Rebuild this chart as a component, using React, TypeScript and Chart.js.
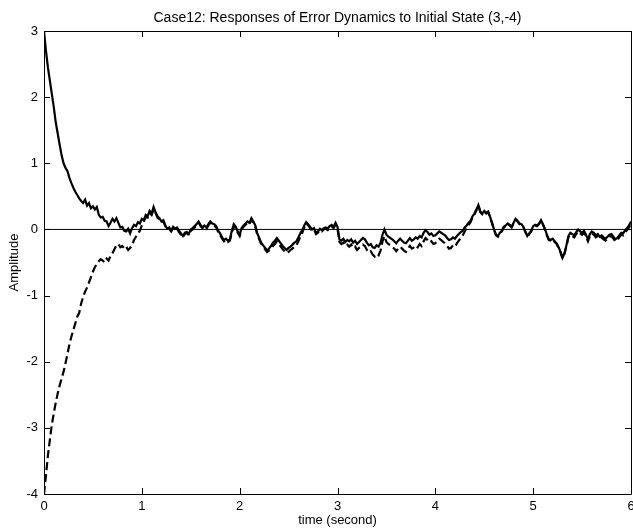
import { useEffect, useRef } from "react";
import { Chart, registerables } from "chart.js";

Chart.register(...registerables);

const chartTitle = "Case12: Responses of Error Dynamics to Initial State (3,-4)";
const xAxisLabel = "time (second)";
const yAxisLabel = "Amplitude";
const xTicks = [0, 1, 2, 3, 4, 5, 6];
const yTicks = [-4, -3, -2, -1, 0, 1, 2, 3];

const timeValues = [
  0.00, 0.02, 0.04, 0.06, 0.08, 0.10, 0.12, 0.14, 0.16, 0.18,
  0.20, 0.22, 0.24, 0.26, 0.28, 0.30, 0.32, 0.34, 0.36, 0.38,
  0.40, 0.42, 0.44, 0.46, 0.48, 0.50, 0.52, 0.54, 0.56, 0.58,
  0.60, 0.62, 0.64, 0.66, 0.68, 0.70, 0.72, 0.74, 0.76, 0.78,
  0.80, 0.82, 0.84, 0.86, 0.88, 0.90, 0.92, 0.94, 0.96, 0.98,
  1.00, 1.02, 1.04, 1.06, 1.08, 1.10, 1.12, 1.14, 1.16, 1.18,
  1.20, 1.22, 1.24, 1.26, 1.28, 1.30, 1.32, 1.34, 1.36, 1.38,
  1.40, 1.42, 1.44, 1.46, 1.48, 1.50, 1.52, 1.54, 1.56, 1.58,
  1.60, 1.62, 1.64, 1.66, 1.68, 1.70, 1.72, 1.74, 1.76, 1.78,
  1.80, 1.82, 1.84, 1.86, 1.88, 1.90, 1.92, 1.94, 1.96, 1.98,
  2.00, 2.02, 2.04, 2.06, 2.08, 2.10, 2.12, 2.14, 2.16, 2.18,
  2.20, 2.22, 2.24, 2.26, 2.28, 2.30, 2.32, 2.34, 2.36, 2.38,
  2.40, 2.42, 2.44, 2.46, 2.48, 2.50, 2.52, 2.54, 2.56, 2.58,
  2.60, 2.62, 2.64, 2.66, 2.68, 2.70, 2.72, 2.74, 2.76, 2.78,
  2.80, 2.82, 2.84, 2.86, 2.88, 2.90, 2.92, 2.94, 2.96, 2.98,
  3.00, 3.02, 3.04, 3.06, 3.08, 3.10, 3.12, 3.14, 3.16, 3.18,
  3.20, 3.22, 3.24, 3.26, 3.28, 3.30, 3.32, 3.34, 3.36, 3.38,
  3.40, 3.42, 3.44, 3.46, 3.48, 3.50, 3.52, 3.54, 3.56, 3.58,
  3.60, 3.62, 3.64, 3.66, 3.68, 3.70, 3.72, 3.74, 3.76, 3.78,
  3.80, 3.82, 3.84, 3.86, 3.88, 3.90, 3.92, 3.94, 3.96, 3.98,
  4.00, 4.02, 4.04, 4.06, 4.08, 4.10, 4.12, 4.14, 4.16, 4.18,
  4.20, 4.22, 4.24, 4.26, 4.28, 4.30, 4.32, 4.34, 4.36, 4.38,
  4.40, 4.42, 4.44, 4.46, 4.48, 4.50, 4.52, 4.54, 4.56, 4.58,
  4.60, 4.62, 4.64, 4.66, 4.68, 4.70, 4.72, 4.74, 4.76, 4.78,
  4.80, 4.82, 4.84, 4.86, 4.88, 4.90, 4.92, 4.94, 4.96, 4.98,
  5.00, 5.02, 5.04, 5.06, 5.08, 5.10, 5.12, 5.14, 5.16, 5.18,
  5.20, 5.22, 5.24, 5.26, 5.28, 5.30, 5.32, 5.34, 5.36, 5.38,
  5.40, 5.42, 5.44, 5.46, 5.48, 5.50, 5.52, 5.54, 5.56, 5.58,
  5.60, 5.62, 5.64, 5.66, 5.68, 5.70, 5.72, 5.74, 5.76, 5.78,
  5.80, 5.82, 5.84, 5.86, 5.88, 5.90, 5.92, 5.94, 5.96, 5.98,
  6.00,
];

// error state 1 (solid line), starts at 3
const error1Values = [
  3.00, 2.70, 2.45, 2.25, 2.05, 1.85, 1.62, 1.45, 1.28, 1.12,
  1.00, 0.93, 0.88, 0.78, 0.70, 0.63, 0.57, 0.52, 0.47, 0.43,
  0.40, 0.45, 0.36, 0.40, 0.32, 0.35, 0.30, 0.34, 0.22, 0.18,
  0.19, 0.13, 0.12, 0.05, 0.10, 0.16, 0.12, 0.17, 0.10, 0.03,
  0.04, -0.02, -0.03, 0.01, -0.06, 0.02, 0.07, 0.05, 0.11, 0.09,
  0.16, 0.14, 0.22, 0.20, 0.28, 0.24, 0.34, 0.26, 0.20, 0.17,
  0.12, 0.14, 0.06, 0.01, 0.03, -0.01, 0.04, 0.01, 0.03, -0.02,
  -0.06, -0.10, -0.05, -0.04, -0.07, 0.00, 0.02, 0.05, 0.08, 0.12,
  0.07, 0.03, 0.06, 0.03, 0.08, 0.12, 0.09, 0.08, 0.05, -0.02,
  -0.06, -0.12, -0.16, -0.14, -0.17, -0.15, -0.02, 0.08, 0.04, -0.03,
  -0.08, 0.02, 0.06, 0.09, 0.12, 0.10, 0.17, 0.12, 0.06, -0.06,
  -0.13, -0.20, -0.24, -0.28, -0.32, -0.29, -0.25, -0.20, -0.17, -0.13,
  -0.17, -0.21, -0.25, -0.28, -0.31, -0.28, -0.26, -0.23, -0.20, -0.18,
  -0.12, -0.06, -0.01, 0.06, 0.11, 0.08, 0.04, 0.00, 0.02, -0.05,
  -0.03, 0.01, -0.01, 0.02, 0.03, 0.01, 0.05, 0.07, 0.04, 0.10,
  0.04, -0.15, -0.17, -0.14, -0.19, -0.16, -0.18, -0.15, -0.20, -0.17,
  -0.22, -0.19, -0.16, -0.13, -0.15, -0.20, -0.24, -0.22, -0.27, -0.28,
  -0.24, -0.26, -0.20, -0.08, 0.00, -0.08, -0.11, -0.13, -0.15, -0.18,
  -0.21, -0.17, -0.14, -0.17, -0.20, -0.21, -0.17, -0.13, -0.17, -0.15,
  -0.12, -0.14, -0.10, -0.12, -0.05, -0.01, -0.04, -0.08, -0.06, -0.10,
  -0.09, -0.06, -0.03, -0.05, -0.07, -0.09, -0.13, -0.16, -0.15, -0.12,
  -0.14, -0.10, -0.07, -0.04, -0.02, 0.03, 0.06, 0.10, 0.13, 0.20,
  0.24, 0.30, 0.37, 0.27, 0.24, 0.28, 0.25, 0.27, 0.19, 0.10,
  0.00, -0.08, -0.10, -0.05, -0.02, 0.04, 0.06, 0.09, 0.07, 0.04,
  0.10, 0.16, 0.13, 0.09, 0.08, 0.04, -0.03, -0.10, -0.06, -0.02,
  0.05, 0.07, 0.06, 0.09, 0.14, 0.08, 0.01, -0.08, -0.15, -0.16,
  -0.14, -0.18, -0.21, -0.27, -0.34, -0.43, -0.36, -0.24, -0.10, -0.05,
  -0.07, -0.09, -0.04, 0.00, -0.03, -0.05, -0.02, -0.08, -0.15, -0.07,
  -0.03, -0.05, -0.09, -0.07, -0.11, -0.09, -0.12, -0.14, -0.11, -0.08,
  -0.07, -0.11, -0.15, -0.13, -0.09, -0.05, -0.06, -0.01, 0.02, 0.06,
  0.12,
];

// error state 2 (dashed line), starts at -4
const error2Values = [
  -4.00, -3.72, -3.42, -3.18, -2.95, -2.78, -2.62, -2.48, -2.36, -2.25,
  -2.15, -2.02, -1.88, -1.74, -1.62, -1.52, -1.42, -1.32, -1.26, -1.12,
  -1.02, -0.94, -0.88, -0.80, -0.72, -0.64, -0.57, -0.52, -0.48, -0.45,
  -0.47, -0.50, -0.44, -0.47, -0.40, -0.36, -0.30, -0.24, -0.22, -0.27,
  -0.25, -0.29, -0.26, -0.31, -0.28, -0.24, -0.16, -0.11, -0.06, -0.02,
  0.06, 0.12, 0.19, 0.18, 0.25, 0.22, 0.30, 0.25, 0.18, 0.15,
  0.11, 0.12, 0.05, 0.00, 0.01, -0.03, 0.02, 0.00, 0.01, -0.04,
  -0.08, -0.12, -0.07, -0.05, -0.09, -0.02, 0.00, 0.03, 0.06, 0.10,
  0.05, 0.02, 0.04, 0.01, 0.06, 0.10, 0.08, 0.06, 0.03, -0.04,
  -0.08, -0.14, -0.18, -0.16, -0.19, -0.17, -0.05, 0.05, 0.02, -0.05,
  -0.10, 0.00, 0.04, 0.07, 0.10, 0.08, 0.15, 0.10, 0.04, -0.08,
  -0.15, -0.22, -0.26, -0.30, -0.34, -0.32, -0.29, -0.25, -0.22, -0.18,
  -0.22, -0.26, -0.30, -0.33, -0.36, -0.34, -0.31, -0.29, -0.26, -0.24,
  -0.18, -0.11, -0.05, 0.03, 0.09, 0.06, 0.02, -0.02, 0.00, -0.07,
  -0.05, -0.01, -0.03, 0.00, 0.01, -0.01, 0.03, 0.05, 0.02, 0.07,
  0.01, -0.19, -0.22, -0.20, -0.25, -0.23, -0.26, -0.23, -0.28, -0.26,
  -0.31, -0.28, -0.26, -0.23, -0.25, -0.31, -0.35, -0.33, -0.38, -0.41,
  -0.37, -0.39, -0.32, -0.18, -0.10, -0.19, -0.22, -0.24, -0.27, -0.29,
  -0.33, -0.29, -0.26, -0.29, -0.32, -0.34, -0.29, -0.25, -0.29, -0.27,
  -0.24, -0.27, -0.22, -0.25, -0.18, -0.13, -0.16, -0.20, -0.18, -0.22,
  -0.21, -0.17, -0.14, -0.16, -0.19, -0.21, -0.25, -0.29, -0.28, -0.24,
  -0.26, -0.21, -0.17, -0.13, -0.09, -0.03, 0.02, 0.07, 0.11, 0.18,
  0.23, 0.29, 0.36, 0.26, 0.23, 0.27, 0.24, 0.26, 0.18, 0.09,
  -0.01, -0.09, -0.11, -0.06, -0.03, 0.03, 0.05, 0.08, 0.06, 0.03,
  0.09, 0.15, 0.12, 0.08, 0.07, 0.03, -0.04, -0.11, -0.07, -0.03,
  0.04, 0.06, 0.05, 0.08, 0.13, 0.07, 0.00, -0.09, -0.16, -0.17,
  -0.15, -0.19, -0.22, -0.28, -0.35, -0.44, -0.37, -0.26, -0.12, -0.08,
  -0.10, -0.12, -0.07, -0.03, -0.06, -0.08, -0.05, -0.11, -0.18, -0.10,
  -0.06, -0.08, -0.12, -0.10, -0.14, -0.12, -0.15, -0.17, -0.14, -0.11,
  -0.10, -0.14, -0.18, -0.16, -0.12, -0.08, -0.09, -0.04, -0.01, 0.03,
  0.09,
];

const zeroLineX = [0, 6];
const zeroLineY = [0, 0];

const FONT = "'Liberation Sans', Arial, Helvetica, sans-serif";

const framePlugin = {
  id: "matlabFrame",
  afterDatasetsDraw(chart: any) {
    const { ctx, chartArea, scales } = chart;
    const { left, right, top, bottom } = chartArea;
    const len = 6;
    ctx.save();
    ctx.strokeStyle = "#000";
    ctx.lineWidth = 1;
    ctx.beginPath();
    ctx.rect(Math.round(left) + 0.5, Math.round(top) + 0.5, Math.round(right - left), Math.round(bottom - top));
    for (const v of xTicks) {
      const px = Math.round(scales.x.getPixelForValue(v)) + 0.5;
      ctx.moveTo(px, bottom);
      ctx.lineTo(px, bottom - len);
      ctx.moveTo(px, top);
      ctx.lineTo(px, top + len);
    }
    for (const v of yTicks) {
      const py = Math.round(scales.y.getPixelForValue(v)) + 0.5;
      ctx.moveTo(left, py);
      ctx.lineTo(left + len, py);
      ctx.moveTo(right, py);
      ctx.lineTo(right - len, py);
    }
    ctx.stroke();
    ctx.restore();
  },
};

export default function App() {
  const canvasRef = useRef<HTMLCanvasElement | null>(null);

  useEffect(() => {
    document.body.style.margin = "0";
    const canvas = canvasRef.current;
    if (!canvas) return;
    Chart.defaults.font.family = FONT;
    Chart.defaults.color = "#000";

    const solidData = timeValues.map((t, i) => ({ x: t, y: error1Values[i] }));
    const dashedData = timeValues.map((t, i) => ({ x: t, y: error2Values[i] }));
    const zeroData = zeroLineX.map((t, i) => ({ x: t, y: zeroLineY[i] }));

    const chart = new Chart(canvas, {
      type: "line",
      data: {
        datasets: [
          {
            label: "e1",
            data: solidData,
            borderColor: "#000",
            borderWidth: 2.2,
            pointRadius: 0,
            tension: 0,
          },
          {
            label: "e2",
            data: dashedData,
            borderColor: "#000",
            borderWidth: 2.2,
            borderDash: [8, 4],
            pointRadius: 0,
            tension: 0,
          },
          {
            label: "zero",
            data: zeroData,
            borderColor: "#000",
            borderWidth: 1,
            pointRadius: 0,
          },
        ],
      },
      options: {
        responsive: false,
        animation: false,
        layout: { padding: { left: 0, right: 2, top: 0, bottom: 0 } },
        plugins: {
          legend: { display: false },
          tooltip: { enabled: false },
          title: {
            display: true,
            text: chartTitle,
            fullSize: false,
            color: "#000",
            font: { family: FONT, size: 14, weight: "normal" },
            padding: { top: 10, bottom: 4.2 },
          },
        },
        scales: {
          x: {
            type: "linear",
            min: 0,
            max: 6,
            grid: { display: false, drawTicks: false },
            border: { display: false },
            ticks: {
              stepSize: 1,
              padding: 5,
              color: "#000",
              font: { family: FONT, size: 13 },
              maxRotation: 0,
            },
            title: {
              display: true,
              text: xAxisLabel,
              color: "#000",
              font: { family: FONT, size: 13 },
              padding: { top: 0, bottom: 0.5 },
            },
            afterFit(scale: any) {
              scale.height = 35;
              scale.paddingLeft = 0;
              scale.paddingRight = 0;
            },
          },
          y: {
            type: "linear",
            min: -4,
            max: 3,
            grid: { display: false, drawTicks: false },
            border: { display: false },
            ticks: {
              stepSize: 1,
              padding: 6,
              color: "#000",
              font: { family: FONT, size: 13 },
            },
            title: {
              display: true,
              text: yAxisLabel,
              color: "#000",
              font: { family: FONT, size: 13 },
              padding: { top: 7, bottom: 0 },
            },
            afterFit(scale: any) {
              scale.width = 44;
              scale.paddingTop = 0;
              scale.paddingBottom = 0;
            },
          },
        },
      },
      plugins: [framePlugin],
    });

    return () => chart.destroy();
  }, []);

  return (
    <canvas
      ref={canvasRef}
      width={633}
      height={529}
      style={{ display: "block", width: 633, height: 529 }}
    />
  );
}
